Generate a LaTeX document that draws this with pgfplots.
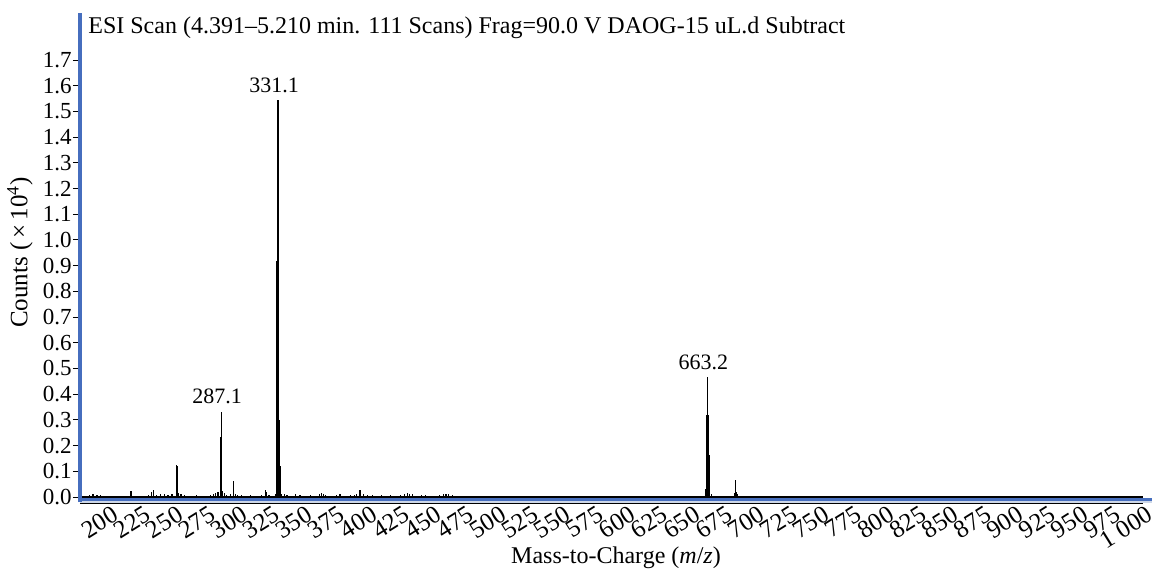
\documentclass[border=0pt]{standalone}
\usepackage{pgfplots}
\pgfplotsset{compat=1.18}
\usepackage{fontspec}
\setmainfont{Liberation Serif}
\definecolor{spine}{RGB}{70,110,190}
\definecolor{band}{RGB}{205,215,232}

% m/z, counts (x10^4)
\pgfplotstableread{
mz I
185 0.006
188 0.010
191 0.009
194 0.007
197 0.005
200 0.005
205 0.004
212 0.004
217.2 0.024
217.7 0.024
222 0.004
226 0.005
231 0.006
233 0.018
234.6 0.028
237 0.008
240 0.010
243 0.012
246 0.008
249 0.012
252.6 0.125
253.2 0.120
254 0.015
256 0.010
259 0.006
263 0.005
268 0.006
274 0.004
279 0.008
281 0.012
282.5 0.015
284 0.018
285.3 0.020
286.3 0.235
286.7 0.235
287.1 0.332
287.5 0.235
288.3 0.025
289.5 0.015
291 0.008
294 0.010
296.4 0.062
296.9 0.060
298 0.012
300 0.006
303 0.008
306 0.005
310 0.006
314 0.004
318 0.008
321.3 0.028
321.8 0.020
324 0.006
327 0.005
329.5 0.010
330.2 0.920
330.6 0.920
331.1 1.545
331.5 0.920
331.9 0.300
332.3 0.300
333.2 0.120
334 0.012
336 0.010
338 0.006
341 0.005
344.5 0.010
348 0.006
352 0.005
356 0.006
360 0.005
363 0.012
364.5 0.014
366 0.012
368 0.006
372 0.005
376 0.006
379 0.010
383 0.005
387 0.006
390 0.008
392 0.012
394.4 0.026
395 0.022
397 0.012
400 0.008
404 0.006
408 0.005
411 0.006
415 0.005
418 0.006
422 0.004
426 0.006
429 0.012
431 0.014
433 0.012
435 0.010
438 0.005
442 0.006
445 0.008
449 0.004
452 0.005
456 0.006
459 0.010
461 0.012
463 0.010
466 0.006
470 0.004
477 0.005
531 0.005
661.8 0.030
662.4 0.320
662.8 0.320
663.2 0.468
663.6 0.320
664.0 0.163
664.4 0.163
665 0.040
666 0.010
684.2 0.015
684.8 0.066
685.4 0.020
686.2 0.010
762 0.005
}\spec

\begin{document}
\begin{tikzpicture}
\begin{axis}[
  scale only axis, width=536pt, height=228.5pt,
  xmin=177.9, xmax=1007, ymin=0, ymax=1.778,
  axis x line*=bottom, axis y line*=left,
  axis line style={draw=none},
  xtick={200,225,...,1000},
  xticklabels={200,225,250,275,300,325,350,375,400,425,450,475,500,525,550,575,600,625,650,675,700,725,750,775,800,825,850,875,900,925,950,975,1 000},
  ytick={0,0.1,0.2,0.3,0.4,0.5,0.6,0.7,0.8,0.9,1.0,1.1,1.2,1.3,1.4,1.5,1.6,1.7},
  yticklabel style={/pgf/number format/fixed, /pgf/number format/fixed zerofill, /pgf/number format/precision=1, inner sep=0.5pt, font=\fontsize{11.5}{12}\selectfont},
  /pgf/number format/assume math mode=true,
  tick align=outside,
  major tick length=3.5pt,
  tick style={black, line width=0.5pt},
  xticklabel style={rotate=32, anchor=north east, inner sep=1pt, xshift=2pt, font=\fontsize{12.5}{13}\selectfont},
  xlabel={Mass-to-Charge (\textit{m}/\textit{z})},
  ylabel={Counts (\,×\,10\textsuperscript{4})},
  xlabel style={font=\fontsize{12}{13}\selectfont, at={(axis description cs:0.5,0)}, anchor=base, yshift=-33pt},
  ylabel style={font=\fontsize{12.5}{13}\selectfont, at={(axis description cs:0,0.535)}, anchor=center, yshift=30pt},
  clip=false,
]
\addplot[ycomb, black, line width=0.6pt, mark=none] table {\spec};
\addplot[draw=none, mark=none, nodes near coords, point meta=explicit symbolic,
  nodes near coords style={anchor=south, inner sep=0pt, xshift=-2pt, yshift=3.5pt, font=\fontsize{11}{12}\selectfont}]
  coordinates {(287.1,0.332)[287.1] (331.1,1.545)[331.1] (663.2,0.468)[663.2]};
\draw[band, line width=1pt] ([yshift=-2.5pt]rel axis cs:0,0) -- ([yshift=-2.5pt]rel axis cs:1,0);
\draw[spine, line width=1.5pt] ([yshift=-1.25pt]rel axis cs:0,0) -- ([yshift=-1.25pt]rel axis cs:1,0);
\draw[black, line width=0.6pt] (rel axis cs:0,0) -- (axis cs:1000,0);
\draw[black, line width=0.5pt] ([yshift=-3.3pt]rel axis cs:0,0) -- ([yshift=-3.3pt]axis cs:1000,0);
\draw[spine, line width=1.6pt] ([yshift=-2.5pt]rel axis cs:0,0) -- ([yshift=13.5pt]rel axis cs:0,1);
\node[anchor=base west, inner sep=0pt, font=\fontsize{12}{13}\selectfont]
  at ([xshift=4pt, yshift=3.5pt]rel axis cs:0,1)
  {ESI Scan (4.391–5.210 min. 111 Scans) Frag=90.0 V DAOG-15 uL.d Subtract};
\coordinate (ll) at (rel axis cs:0,0);
\coordinate (ur) at (rel axis cs:1,1);
\end{axis}
\pgfresetboundingbox
\path[use as bounding box] ([shift={(-40pt,-36.5pt)}]ll) rectangle ([shift={(2pt,20pt)}]ur);
\end{tikzpicture}
\end{document}
